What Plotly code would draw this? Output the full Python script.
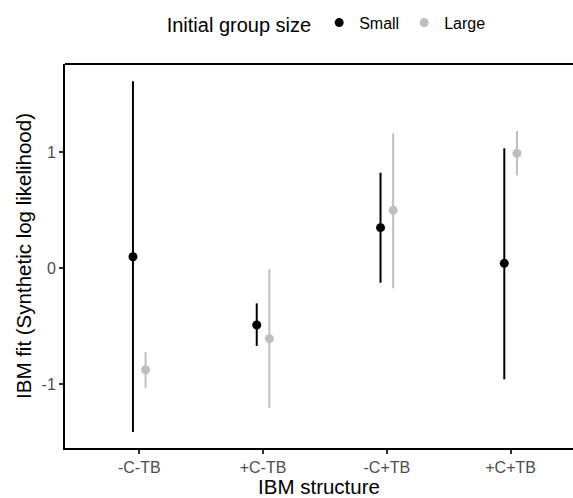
import plotly.graph_objects as go

categories = ["-C-TB", "+C-TB", "-C+TB", "+C+TB"]
small_mean = [0.097, -0.491, 0.348, 0.040]
small_low = [-1.414, -0.672, -0.127, -0.960]
small_high = [1.610, -0.305, 0.822, 1.032]
large_mean = [-0.877, -0.609, 0.497, 0.989]
large_low = [-1.034, -1.207, -0.175, 0.800]
large_high = [-0.724, -0.011, 1.161, 1.181]
y_ticks = [-1, 0, 1]

dodge = 0.051
idx = list(range(len(categories)))

fig = go.Figure()

def add_series(name, means, lows, highs, color, offset):
    xs = [i + offset for i in idx]
    fig.add_trace(go.Scatter(
        x=xs, y=means, mode="markers", name=name,
        marker=dict(color=color, size=9),
        error_y=dict(type="data", symmetric=False,
                     array=[h - m for h, m in zip(highs, means)],
                     arrayminus=[m - l for m, l in zip(means, lows)],
                     color=color, thickness=2, width=0),
    ))

add_series("Small", small_mean, small_low, small_high, "black", -dodge)
add_series("Large", large_mean, large_low, large_high, "#BEBEBE", dodge)

font_family = "Liberation Sans, Arial, sans-serif"

fig.add_shape(type="line", xref="paper", yref="paper", x0=0, x1=1, y0=1, y1=1,
              line=dict(color="black", width=2), layer="above")

fig.update_layout(
    width=573, height=498,
    margin=dict(l=65, r=0, t=64, b=50),
    plot_bgcolor="white", paper_bgcolor="white",
    font=dict(family=font_family, color="black"),
    showlegend=True,
    legend=dict(
        orientation="h", x=0.517, xanchor="center", y=1.105, yanchor="middle",
        title=dict(text="Initial group size", font=dict(size=20, color="black"), side="left"),
        font=dict(size=16, color="black"),
        itemwidth=30,
    ),
    xaxis=dict(
        range=[-0.6, 3.504],
        tickmode="array", tickvals=idx, ticktext=categories,
        showgrid=False, zeroline=False,
        showline=True, linecolor="black", linewidth=2, mirror=False,
        ticks="outside", ticklen=4, tickcolor="#333333", tickwidth=1.5,
        tickfont=dict(size=16, color="#4D4D4D"),
        title=dict(text="IBM structure", font=dict(size=20.5, color="black"), standoff=4),
    ),
    yaxis=dict(
        range=[-1.552, 1.759],
        tickmode="array", tickvals=y_ticks, ticktext=[str(v) for v in y_ticks],
        showgrid=False, zeroline=False,
        showline=True, linecolor="black", linewidth=2, mirror=False,
        ticks="outside", ticklen=4, tickcolor="#333333", tickwidth=1.5,
        tickfont=dict(size=16, color="#4D4D4D"),
        title=dict(text="IBM fit (Synthetic log likelihood)", font=dict(size=20.5, color="black"), standoff=4),
    ),
)

fig.write_html("out.html")
